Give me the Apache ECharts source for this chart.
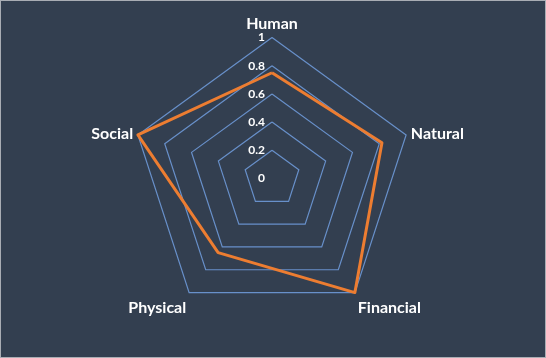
<!DOCTYPE html>
<html>
<head>
<meta charset="utf-8">
<script src="https://cdn.jsdelivr.net/npm/echarts@6/dist/echarts.min.js"></script>
<style>
html,body{margin:0;padding:0;background:#333F50;}
#c{width:546px;height:358px;box-sizing:border-box;border:1px solid #A9ADB4;}
</style>
</head>
<body>
<div id="c"></div>
<script>
// Categories in clockwise order as in the reference (starting at top)
var categories = ['Human', 'Natural', 'Financial', 'Physical', 'Social'];
var values = [0.75, 0.82, 1.0, 0.65, 1.0];
var tickLabels = ['0', '0.2', '0.4', '0.6', '0.8', '1'];
var axisMax = 1;
var axisStep = 0.2;

// ECharts lays indicators out counter-clockwise; reorder so they appear clockwise.
var order = [0, 4, 3, 2, 1];
var bottomNames = {'Physical': true, 'Financial': true};

var indicators = order.map(function (i, k) {
  var ind = { name: categories[i], min: 0, max: axisMax };
  if (k === 0) {
    ind.axisLabel = {
      show: true,
      color: '#FFFFFF',
      fontFamily: 'Lato',
      fontWeight: 'bold',
      fontSize: 12,
      margin: 7,
      formatter: function (v) {
        var idx = Math.round(v / axisStep);
        return tickLabels[idx] != null ? tickLabels[idx] : '';
      }
    };
  }
  return ind;
});
var seriesData = order.map(function (i) { return values[i]; });

var chart = echarts.init(document.getElementById('c'));
chart.setOption({
  backgroundColor: '#333F50',
  animation: false,
  radar: {
    center: [271, 177.5],
    radius: 141,
    startAngle: 90,
    shape: 'polygon',
    splitNumber: 5,
    nameGap: 5,
    indicator: indicators,
    axisName: {
      color: '#FFFFFF',
      fontFamily: 'Lato',
      fontWeight: 'bold',
      fontSize: 16,
      formatter: function (name) {
        return bottomNames[name] ? '{b|' + name + '}' : '{a|' + name + '}';
      },
      rich: {
        a: { color: '#FFFFFF', fontFamily: 'Lato', fontWeight: 'bold', fontSize: 16 },
        b: { color: '#FFFFFF', fontFamily: 'Lato', fontWeight: 'bold', fontSize: 16, padding: [22, 0, 0, 0] }
      }
    },
    axisLine: { show: false },
    axisTick: { show: false },
    axisLabel: { show: false },
    splitArea: { show: false },
    splitLine: { lineStyle: { color: '#6890CA', width: 1.2 } }
  },
  series: [{
    type: 'radar',
    symbol: 'none',
    lineStyle: { color: '#ED7D31', width: 3 },
    data: [{ value: seriesData, name: 'Series 1' }]
  }]
});
</script>
</body>
</html>
